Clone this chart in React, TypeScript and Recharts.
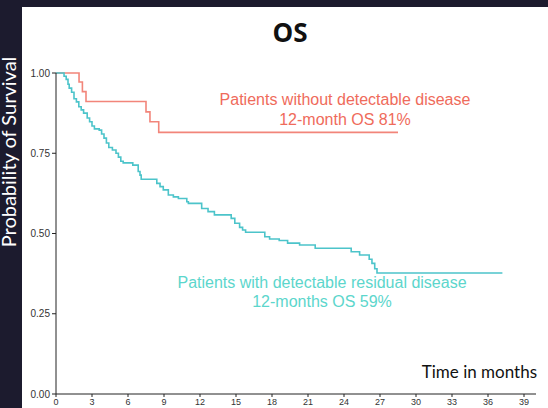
import React from 'react';
import { LineChart, Line, XAxis, YAxis } from 'recharts';

// Axis ticks
const xTicks = [0, 3, 6, 9, 12, 15, 18, 21, 24, 27, 30, 33, 36, 39];
const yTicks = [0, 0.25, 0.5, 0.75, 1];

// Kaplan-Meier steps: patients without detectable disease
const noResidualMonths = [0, 1.92, 2.2, 2.5, 7.5, 7.83, 8.56, 28.5];
const noResidualSurvival = [1, 0.972, 0.942, 0.911, 0.879, 0.848, 0.815, 0.815];

// Kaplan-Meier steps: patients with detectable residual disease
const residualMonths = [
  0, 0.67, 0.85, 1.0, 1.1, 1.3, 1.5, 1.7, 1.9, 2.1, 2.3, 2.6, 2.8, 3.0, 3.2, 3.6,
  3.8, 4.0, 4.2, 4.4, 4.7, 5.0, 5.2, 5.4, 5.6, 6.4, 6.85, 7.0, 7.1, 8.4, 8.67,
  8.94, 9.36, 9.78, 10.2, 10.9, 11.03, 12.14, 12.67, 13.2, 14.6, 14.9, 15.3,
  15.55, 15.8, 17.4, 17.8, 18.6, 19.3, 20.3, 21.6, 24.6, 25.3, 26.1, 26.33,
  26.56, 26.75, 37.2,
];
const residualSurvival = [
  1, 0.99, 0.98, 0.965, 0.953, 0.94, 0.92, 0.91, 0.895, 0.885, 0.875, 0.86,
  0.848, 0.835, 0.826, 0.822, 0.81, 0.797, 0.782, 0.768, 0.76, 0.75, 0.738,
  0.725, 0.72, 0.713, 0.693, 0.682, 0.669, 0.656, 0.646, 0.636, 0.62, 0.614,
  0.609, 0.599, 0.594, 0.578, 0.568, 0.558, 0.547, 0.532, 0.519, 0.511, 0.504,
  0.49, 0.483, 0.478, 0.47, 0.464, 0.454, 0.443, 0.433, 0.42, 0.407, 0.39,
  0.377, 0.377,
];

const zip = (ts: number[], ss: number[]) => ts.map((t, i) => ({ t, s: ss[i] }));
const noResidualData = zip(noResidualMonths, noResidualSurvival);
const residualData = zip(residualMonths, residualSurvival);

const RED_LINE = '#f2857a';
const RED_TEXT = '#ef6b5b';
const CYAN_LINE = '#4cc4ca';
const CYAN_TEXT = '#5cd6cc';

const tickFont = { fontFamily: '"Liberation Sans", Arial, sans-serif', fill: '#333' };

export default function App() {
  return (
    <div
      style={{
        position: 'fixed',
        left: 0,
        top: 0,
        width: 548,
        height: 408,
        background: '#1c1b2e',
        overflow: 'hidden',
      }}
    >
      <svg width={22} height={408} style={{ position: 'absolute', left: 0, top: 0 }}>
        <text
          transform="translate(16,152) rotate(-90)"
          textAnchor="middle"
          fill="#ffffff"
          style={{ fontFamily: 'Lato, sans-serif', fontSize: 20 }}
        >
          Probability of Survival
        </text>
      </svg>
      <div
        style={{
          position: 'absolute',
          left: 22,
          top: 7,
          width: 526,
          height: 401,
          background: '#ffffff',
        }}
      />
      <div style={{ position: 'absolute', left: 0, top: 0 }}>
        <LineChart width={548} height={408} margin={{ top: 73, right: 12, bottom: 0, left: 0 }}>
          <XAxis
            dataKey="t"
            type="number"
            domain={[0, 40]}
            ticks={xTicks}
            interval={0}
            allowDataOverflow
            height={14}
            tickSize={3}
            tickMargin={2}
            stroke="#222"
            tick={{ ...tickFont, fontSize: 9 }}
          />
          <YAxis
            type="number"
            domain={[0, 1]}
            ticks={yTicks}
            interval={0}
            width={56}
            tickSize={4}
            tickMargin={2}
            stroke="#222"
            tickFormatter={(v: number) => v.toFixed(2)}
            tick={{ ...tickFont, fontSize: 10 }}
          />
          <Line
            data={noResidualData}
            dataKey="s"
            type="stepAfter"
            stroke={RED_LINE}
            strokeWidth={1.6}
            dot={false}
            activeDot={false}
            isAnimationActive={false}
          />
          <Line
            data={residualData}
            dataKey="s"
            type="stepAfter"
            stroke={CYAN_LINE}
            strokeWidth={1.6}
            dot={false}
            activeDot={false}
            isAnimationActive={false}
          />
        </LineChart>
      </div>
      <svg
        width={548}
        height={408}
        style={{ position: 'absolute', left: 0, top: 0, pointerEvents: 'none' }}
      >
        <text
          x={290}
          y={42}
          textAnchor="middle"
          fill="#111"
          style={{ fontFamily: '"Open Sans", sans-serif', fontWeight: 700, fontSize: 26 }}
        >
          OS
        </text>
        <g style={{ fontFamily: '"Liberation Sans", Arial, sans-serif', fontSize: 16 }}>
          <text x={345} y={105} textAnchor="middle" fill={RED_TEXT}>
            Patients without detectable disease
          </text>
          <text x={345} y={124.5} textAnchor="middle" fill={RED_TEXT}>
            12-month OS 81%
          </text>
          <text x={322} y={288} textAnchor="middle" fill={CYAN_TEXT}>
            Patients with detectable residual disease
          </text>
          <text x={322} y={306.5} textAnchor="middle" fill={CYAN_TEXT}>
            12-months OS 59%
          </text>
        </g>
        <text
          x={537}
          y={378}
          textAnchor="end"
          fill="#111"
          style={{ fontFamily: 'Lato, sans-serif', fontSize: 17 }}
        >
          Time in months
        </text>
      </svg>
    </div>
  );
}
